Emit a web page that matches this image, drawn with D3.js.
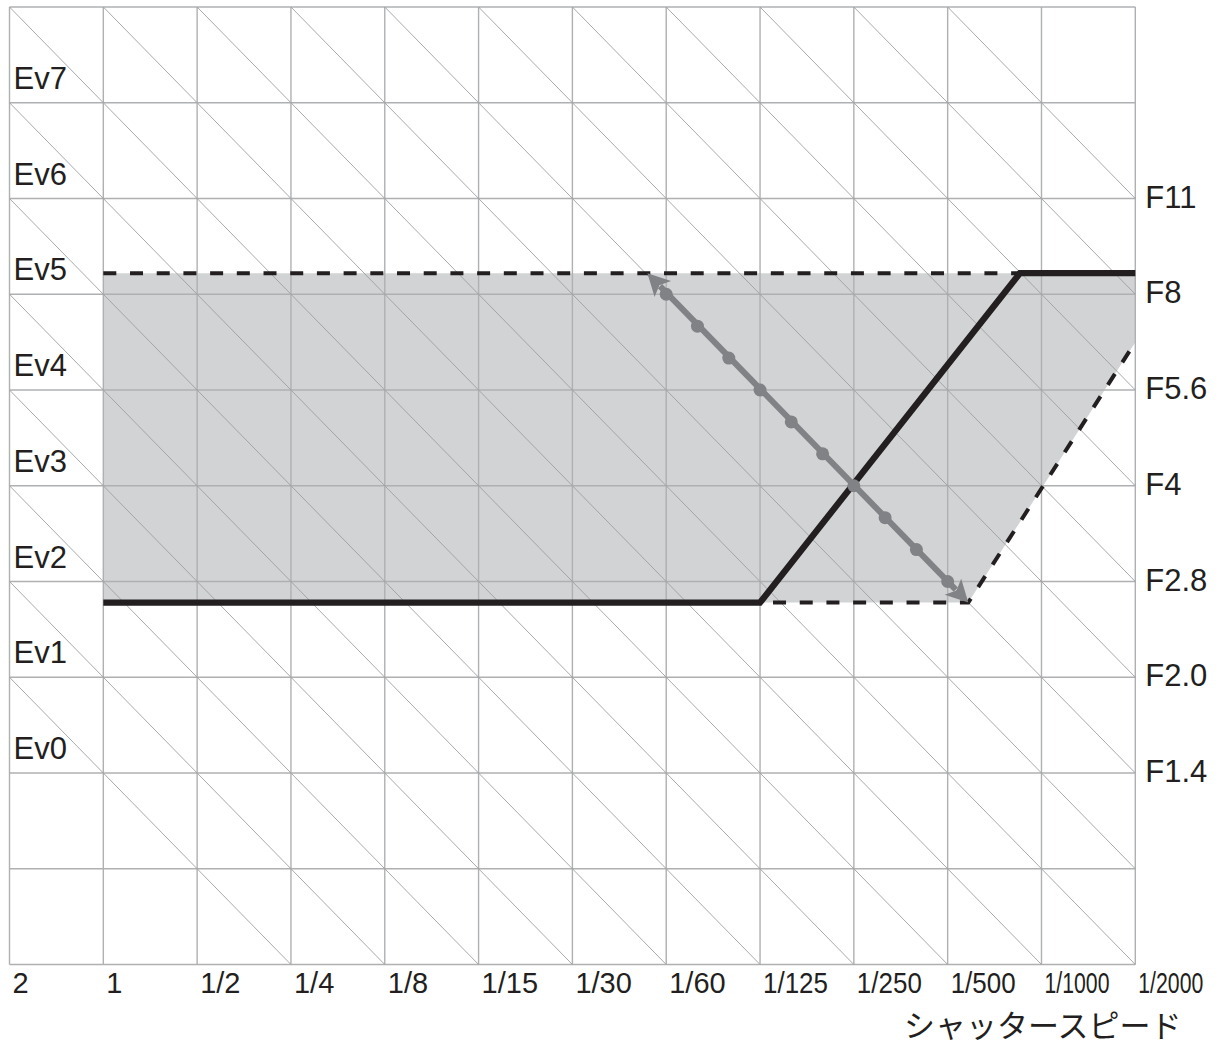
<!DOCTYPE html>
<html>
<head>
<meta charset="utf-8">
<script src="https://cdn.jsdelivr.net/npm/d3@7"></script>
<style>
  html, body { margin: 0; padding: 0; background: #ffffff; }
  svg { display: block; }
</style>
</head>
<body>
<svg id="chart" width="1220" height="1046"></svg>
<script>
// ---- data ----
const shutterLabels = ["2","1","1/2","1/4","1/8","1/15","1/30","1/60","1/125","1/250","1/500","1/1000","1/2000"];
const shutterTV = [-1,0,1,2,3,4,5,6,7,8,9,10,11];
const apertureLabels = ["F1.4","F2.0","F2.8","F4","F5.6","F8","F11"];
const apertureAV = [1,2,3,4,5,6,7];
const evLabels = ["Ev0","Ev1","Ev2","Ev3","Ev4","Ev5","Ev6","Ev7"];
const evValues = [0,1,2,3,4,5,6,7];
const evLines = [1,2,3,4,5,6,7,8,9,10,11,12,13,14,15,16,17,18];
const programTV = [0, 7, 9.77, 11];
const programAV = [2.78, 2.78, 6.22, 6.22];
const upperTV = [0, 9.77];
const upperAV = [6.22, 6.22];
const lowerTV = [7, 9.22, 11];
const lowerAV = [2.78, 2.78, 5.5];
const areaTV = [0, 11, 11, 9.22, 0];
const areaAV = [6.22, 6.22, 5.5, 2.78, 2.78];
const shiftTV = [5.8, 9.22];
const shiftAV = [6.22, 2.78];
const dotTV = [6, 6.333, 6.667, 7, 7.333, 7.667, 8, 8.333, 8.667, 9];
const dotAV = [6, 5.667, 5.333, 5, 4.667, 4.333, 4, 3.667, 3.333, 3];
const axisTitle = "シャッタースピード";

// ---- scales ----
const x = d3.scaleLinear().domain([-1, 11]).range([9.5, 1135.3]);
const y = d3.scaleLinear().domain([-1, 9]).range([964.5, 7]);
const svg = d3.select("#chart");
const ink = "#231f20";
const latin = "'Liberation Sans', Arial, Helvetica, sans-serif";

// shaded program-shift area
svg.append("path")
  .attr("d", d3.line().x(d => x(d[0])).y(d => y(d[1]))(areaTV.map((t, i) => [t, areaAV[i]])) + "Z")
  .attr("fill", "#d1d3d4");

// grid
const grid = svg.append("g");
grid.selectAll("line.v").data(shutterTV).join("line")
  .attr("x1", d => x(d)).attr("x2", d => x(d))
  .attr("y1", y(9)).attr("y2", y(-1))
  .attr("stroke", "#aeb0b2").attr("stroke-width", 1.4);
grid.selectAll("line.h").data(y.ticks(10)).join("line")
  .attr("x1", x(-1)).attr("x2", x(11))
  .attr("y1", d => y(d)).attr("y2", d => y(d))
  .attr("stroke", "#aeb0b2").attr("stroke-width", 1.4);
// EV diagonals (TV + AV = const)
grid.selectAll("line.ev").data(evLines).join("line")
  .attr("x1", d => x(Math.max(-1, d - 9))).attr("y1", d => y(d - Math.max(-1, d - 9)))
  .attr("x2", d => x(Math.min(11, d + 1))).attr("y2", d => y(d - Math.min(11, d + 1)))
  .attr("stroke", "#9d9fa2").attr("stroke-width", 0.9);

// dashed limits
const line = d3.line().x(d => x(d[0])).y(d => y(d[1]));
svg.append("path").attr("d", line(upperTV.map((t, i) => [t, upperAV[i]])))
  .attr("fill", "none").attr("stroke", ink).attr("stroke-width", 4).attr("stroke-dasharray", "13,13.7");
svg.append("path").attr("d", line(lowerTV.map((t, i) => [t, lowerAV[i]])))
  .attr("fill", "none").attr("stroke", ink).attr("stroke-width", 4).attr("stroke-dasharray", "13,13.7")
  .attr("stroke-dashoffset", -13);

// program line
svg.append("path").attr("d", line(programTV.map((t, i) => [t, programAV[i]])))
  .attr("fill", "none").attr("stroke", ink).attr("stroke-width", 6.3).attr("stroke-linejoin", "miter");

// shift arrow
const gray = "#808285";
const p0 = [x(shiftTV[0]), y(shiftAV[0])];
const p1 = [x(shiftTV[1]), y(shiftAV[1])];
const len = Math.hypot(p1[0] - p0[0], p1[1] - p0[1]);
const ux = (p1[0] - p0[0]) / len, uy = (p1[1] - p0[1]) / len;
const headL = 22, headW = 11.5;
svg.append("line")
  .attr("x1", p0[0] + ux * (headL - 4)).attr("y1", p0[1] + uy * (headL - 4))
  .attr("x2", p1[0] - ux * (headL - 4)).attr("y2", p1[1] - uy * (headL - 4))
  .attr("stroke", gray).attr("stroke-width", 6);
function head(tip, dx, dy) {
  const bx = tip[0] + dx * headL, by = tip[1] + dy * headL;
  const nx = -dy, ny = dx;
  const nb = [tip[0] + dx * (headL - 5), tip[1] + dy * (headL - 5)];
  return `M${tip[0]},${tip[1]}L${bx + nx * headW},${by + ny * headW}L${nb[0]},${nb[1]}L${bx - nx * headW},${by - ny * headW}Z`;
}
svg.append("path").attr("d", head(p0, ux, uy)).attr("fill", gray);
svg.append("path").attr("d", head(p1, -ux, -uy)).attr("fill", gray);
svg.selectAll("circle.dot").data(dotTV.map((t, i) => [t, dotAV[i]])).join("circle")
  .attr("cx", d => x(d[0])).attr("cy", d => y(d[1])).attr("r", 6.5).attr("fill", gray);

// Ev labels
svg.selectAll("text.ev").data(evValues).join("text")
  .attr("x", x(-1) + 4).attr("y", d => y(d + 1) - 14)
  .attr("font-family", latin).attr("font-size", 31).attr("fill", ink)
  .text((d, i) => evLabels[i]);

// aperture labels
svg.selectAll("text.ap").data(apertureAV).join("text")
  .attr("x", x(11) + 10).attr("y", d => y(d) + 9)
  .attr("font-family", latin).attr("font-size", 31).attr("fill", ink)
  .text((d, i) => apertureLabels[i]);

// shutter labels (long labels condensed horizontally, as in the original)
svg.selectAll("text.sh").data(shutterTV).join("text")
  .attr("transform", d => `translate(${x(d) + 3},993)`)
  .attr("font-family", latin).attr("font-size", 29).attr("fill", ink)
  .text((d, i) => shutterLabels[i])
  .each(function (d) {
    const w = this.getComputedTextLength();
    if (w > 65) d3.select(this).attr("transform", `translate(${x(d) + 3},993) scale(${65 / w},1)`);
  });

// axis title
svg.append("text")
  .attr("x", 904).attr("y", 1037)
  .attr("font-family", "'Noto Sans CJK JP', sans-serif").attr("font-size", 31).attr("fill", ink)
  .text(axisTitle);
</script>
</body>
</html>
